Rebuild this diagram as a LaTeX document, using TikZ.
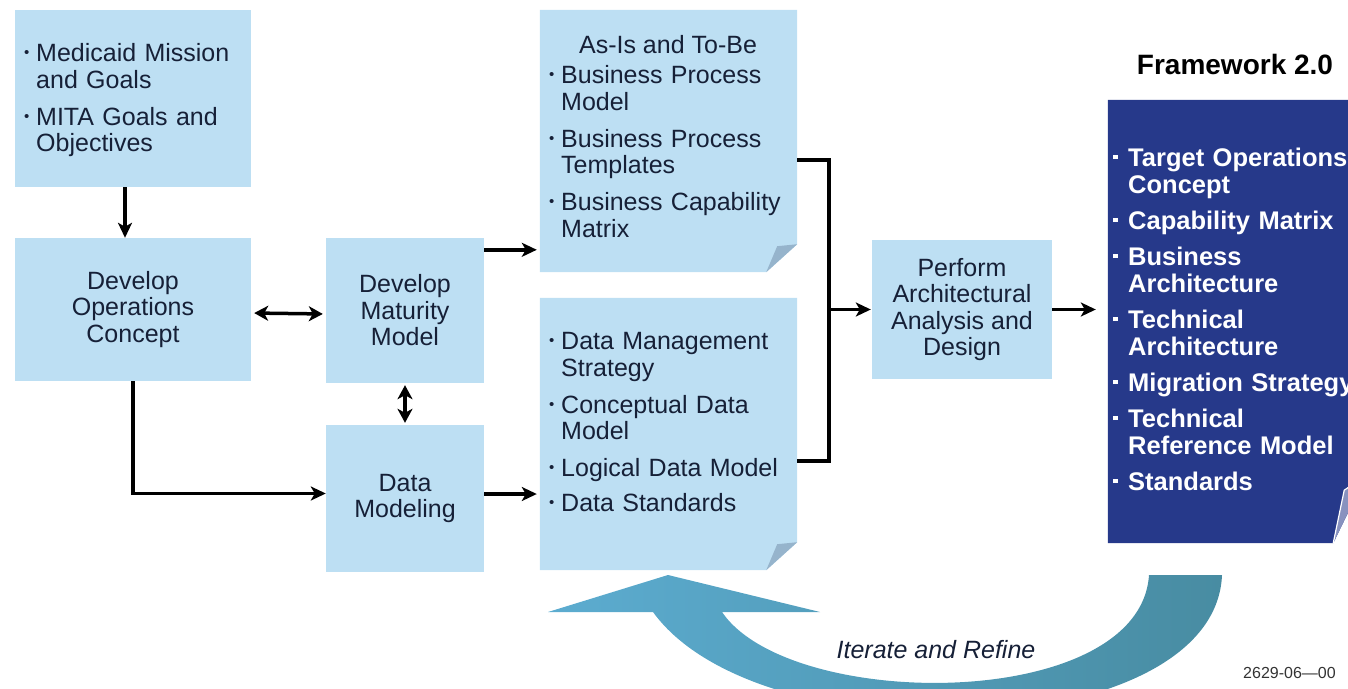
\documentclass[tikz,border=0pt]{standalone}
\usepackage{fontspec}
\setmainfont{Liberation Sans}
\usetikzlibrary{arrows.meta,calc}
\definecolor{lbox}{RGB}{189,223,243}
\definecolor{dbox}{RGB}{38,57,138}
\definecolor{txt}{RGB}{22,32,55}
\definecolor{flap}{RGB}{150,180,204}
\definecolor{arrL}{RGB}{92,172,208}
\definecolor{arrR}{RGB}{72,140,162}
\newlength\bind
\newcommand\bfirst{\hangindent=\bind\hangafter=1\noindent\hbox to \bind{\raisebox{0.16em}{\scalebox{0.6}{\textbullet}}\hss}}
\newcommand\bi{\par\bfirst}
\newcommand\qfirst{\hangindent=\bind\hangafter=1\noindent\hbox to \bind{\rule[0.27em]{0.17em}{0.17em}\hss}}
\newcommand\bq{\par\qfirst}
\tikzset{
  box/.style={fill=lbox, draw=none, text=txt, font=\fontsize{25}{26.5}\selectfont, align=center, inner sep=0pt},
  frame/.style={draw=none, inner sep=0pt},
  tx/.style={text=txt, font=\fontsize{25}{26.5}\selectfont, align=left, text width=300pt, inner sep=0pt, anchor=base west},
  wtx/.style={text=white, font=\bfseries\fontsize{25.5}{27}\selectfont, align=left, text width=300pt, inner sep=0pt, anchor=base west},
  conn/.style={line width=3.5pt},
  arr/.style={line width=3.5pt, -{Stealth[length=15pt,width=14pt,inset=4pt]}},
  darr/.style={line width=3.5pt, {Stealth[length=14pt,width=15pt,inset=4pt]}-{Stealth[length=14pt,width=15pt,inset=4pt]}}
}
\begin{document}
\begin{tikzpicture}[x=1pt,y=-1pt]
\useasboundingbox (0,0) rectangle (1348,688);
\begin{scope}
\clip (0,0) rectangle (1348,688);
% plain boxes
\node[box, minimum width=236pt, minimum height=177pt] (A) at (133,98.5) {};
\node[box, minimum width=236pt, minimum height=143pt] (B) at (133,309.5) {Develop\\Operations\\Concept};
\node[box, minimum width=158pt, minimum height=145pt] (C) at (405,310.5) {Develop\\Maturity\\Model};
\node[box, minimum width=158pt, minimum height=147pt] (D) at (405,498.5) {Data\\Modeling};
\node[box, minimum width=180pt, minimum height=139pt] (G) at (962,309.5) {Perform\\Architectural\\Analysis and\\Design};
% folded boxes
\node[frame, minimum width=257pt, minimum height=262pt] (E) at (668.5,141) {};
\node[frame, minimum width=257pt, minimum height=272pt] (F) at (668.5,434) {};
\node[frame, minimum width=258pt, minimum height=443pt] (H) at (1237,321.5) {};
\fill[lbox] (E.north west) -- (E.north east) -- ($(E.south east)+(0,-28)$) -- ($(E.south east)+(-31,0)$) -- (E.south west) -- cycle;
\fill[flap] ($(E.south east)+(-31,0)$) -- ($(E.south east)+(-20,-26)$) -- ($(E.south east)+(0,-28)$) -- cycle;
\fill[lbox] (F.north west) -- (F.north east) -- ($(F.south east)+(0,-28)$) -- ($(F.south east)+(-31,0)$) -- (F.south west) -- cycle;
\fill[flap] ($(F.south east)+(-31,0)$) -- ($(F.south east)+(-20,-26)$) -- ($(F.south east)+(0,-28)$) -- cycle;
\fill[dbox] (H.north west) -- (H.north east) -- ($(H.south east)+(0,-68)$) -- ($(H.south east)+(-33,0)$) -- (H.south west) -- cycle;
\filldraw[fill=dbox!55!white, draw=white, line width=1.2pt] ($(H.south east)+(-33,0)$) -- ($(H.south east)+(-22,-53)$) -- ($(H.south east)+(0,-68)$);
% texts
\node[tx] (At) at (24,61.5) {\setlength\bind{12pt}\bfirst Medicaid Mission\newline and Goals\par\vspace{10.5pt}\bi MITA Goals and\newline Objectives\par};
\node[text=txt, font=\fontsize{25}{26.5}\selectfont, anchor=base, inner sep=0pt] (Et) at (668,53.5) {As-Is and To-Be};
\node[tx] (Eb) at (549,83.5) {\setlength\bind{12pt}\bfirst Business Process\newline Model\par\vspace{10.5pt}\bi Business Process\newline Templates\par\vspace{10.5pt}\bi Business Capability\newline Matrix\par};
\node[tx] (Fb) at (549,349.5) {\setlength\bind{12pt}\bfirst Data Management\newline Strategy\par\vspace{10.5pt}\bi Conceptual Data\newline Model\par\vspace{10.5pt}\bi Logical Data Model\par\vspace{8pt}\bi Data Standards\par};
\node[wtx] (Hb) at (1113,166) {\setlength\bind{15pt}\qfirst Target Operations\newline Concept\par\vspace{9pt}\bq Capability Matrix\par\vspace{9pt}\bq Business\newline Architecture\par\vspace{9pt}\bq Technical\newline Architecture\par\vspace{9pt}\bq Migration Strategy\par\vspace{9pt}\bq Technical\newline Reference Model\par\vspace{9pt}\bq Standards\par};
\node[font=\bfseries\fontsize{28}{30}\selectfont, anchor=base, inner sep=0pt] (fw) at (1235,74) {Framework 2.0};
% connectors
\draw[arr] ([xshift=-8pt]A.south) -- ([xshift=-8pt]B.north);
\draw[darr, shorten <=3pt, shorten >=3pt] ([yshift=-3.5pt]B.east) -- ([yshift=-3.5pt]C.west);
\draw[darr, shorten <=2pt, shorten >=2pt] (C.south) -- (D.north);
\draw[arr] (B.south) |- ([yshift=5pt]D.west);
\draw[arr, shorten >=3pt] ([yshift=-12pt]C.north east) -- ([yshift=-12pt]C.north east -| E.west);
\draw[arr, shorten >=3pt] ([yshift=4.5pt]D.east) -- ([yshift=4.5pt]D.east -| F.west);
\coordinate (J) at (829,309.5);
\draw[conn] ([yshift=-150pt]E.north east) -| (J) |- ([yshift=-163pt]F.north east);
\draw[arr, shorten >=1pt] (J) -- (G.west);
\draw[arr, shorten >=12pt] (G.east) -- (G.east -| H.west);
% iterate arrow
\shade[left color=arrL, right color=arrR] (1149,575) -- (1222,575) .. controls (1215,745) and (760,760) .. (653,612) -- (548,612) -- (668,575) -- (820,612) -- (722,612) .. controls (790,712) and (1140,712) .. (1149,575) -- cycle;
\node[text=txt, font=\itshape\fontsize{25}{28}\selectfont, inner sep=0pt] (it) at (936,650) {Iterate and Refine};
\node[text=black!80, font=\fontsize{16}{18}\selectfont, anchor=west, inner sep=0pt] (code) at (1243,673) {2629-06—00};
\end{scope}
\end{tikzpicture}
\end{document}
